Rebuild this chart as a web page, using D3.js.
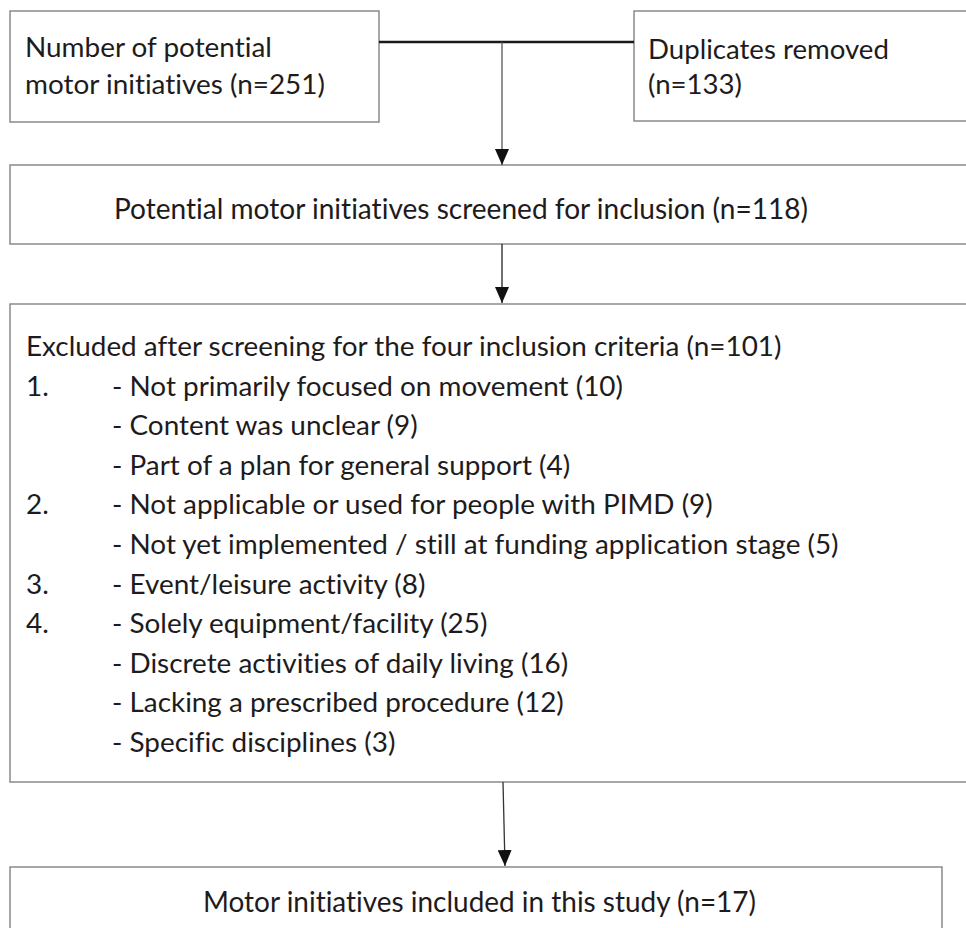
<!DOCTYPE html>
<html>
<head>
<meta charset="utf-8">
<script src="https://cdn.jsdelivr.net/npm/d3@7"></script>
<style>
  html, body { margin: 0; padding: 0; background: #fff; }
  svg { display: block; }
  text { font-variant-ligatures: none; font-feature-settings: "liga" 0, "clig" 0; }
</style>
</head>
<body>
<div id="chart"></div>
<script>
// flow stages: labels and counts
const topLabels = ['Number of potential', 'motor initiatives'];
const potentialCount = 251;
const duplicateLabel = 'Duplicates removed';
const duplicateCount = 133;
const screenedLabel = 'Potential motor initiatives screened for inclusion';
const screenedCount = 118;
const excludedLabel = 'Excluded after screening for the four inclusion criteria';
const excludedCount = 101;
const includedLabel = 'Motor initiatives included in this study';
const includedCount = 17;

// exclusion reasons, grouped by criterion number
const criteria = ['1.', '', '', '2.', '', '3.', '4.', '', '', ''];
const reasons = [
    'Not primarily focused on movement',
    'Content was unclear',
    'Part of a plan for general support',
    'Not applicable or used for people with PIMD',
    'Not yet implemented / still at funding application stage',
    'Event/leisure activity',
    'Solely equipment/facility',
    'Discrete activities of daily living',
    'Lacking a prescribed procedure',
    'Specific disciplines'
];
const reasonCounts = [10, 9, 4, 9, 5, 8, 25, 16, 12, 3];

(function() {
    const width = 966;
    const height = 928;
    const font = 'Lato, "Open Sans", sans-serif';
    const ink = '#1e1b1c';
    const boxStroke = '#8a8a8a';

    const svg = d3.select('#chart').append('svg')
        .attr('width', width)
        .attr('height', height);

    svg.append('rect').attr('width', width).attr('height', height).attr('fill', '#fff');

    svg.append('defs').append('marker')
        .attr('id', 'arrow')
        .attr('markerUnits', 'userSpaceOnUse')
        .attr('viewBox', '0 0 16 14')
        .attr('refX', 16)
        .attr('refY', 7)
        .attr('markerWidth', 16)
        .attr('markerHeight', 14)
        .attr('orient', 'auto')
        .append('path')
        .attr('d', 'M0,0 L16,7 L0,14 Z')
        .attr('fill', '#111');

    // boxes (some run off the right edge like the original)
    const boxes = [
        {x: 10, y: 11, w: 369, h: 111},
        {x: 634, y: 11, w: 400, h: 110},
        {x: 10, y: 165, w: 1000, h: 79},
        {x: 10, y: 304, w: 1000, h: 478},
        {x: 10, y: 867, w: 932, h: 100}
    ];
    svg.selectAll('rect.box')
        .data(boxes)
        .enter()
        .append('rect')
        .attr('class', 'box')
        .attr('x', d => d.x)
        .attr('y', d => d.y)
        .attr('width', d => d.w)
        .attr('height', d => d.h)
        .attr('fill', 'none')
        .attr('stroke', boxStroke)
        .attr('stroke-width', 1.5);

    // connector between first box and duplicates
    svg.append('line')
        .attr('x1', 379).attr('x2', 634)
        .attr('y1', 42).attr('y2', 42)
        .attr('stroke', '#1a1a1a')
        .attr('stroke-width', 2.5);

    const arrows = [
        {x1: 502, y1: 42, x2: 502, y2: 165, c: '#555'},
        {x1: 502, y1: 244, x2: 502, y2: 303, c: '#222'},
        {x1: 503, y1: 782, x2: 505, y2: 866, c: '#333'}
    ];
    svg.selectAll('line.arrow')
        .data(arrows)
        .enter()
        .append('line')
        .attr('class', 'arrow')
        .attr('x1', d => d.x1).attr('y1', d => d.y1)
        .attr('x2', d => d.x2).attr('y2', d => d.y2)
        .attr('stroke', d => d.c)
        .attr('stroke-width', 1.3)
        .attr('marker-end', 'url(#arrow)');

    // scale a group of text so that a reference line gets the wanted width
    function fitFont(sel, ref, target) {
        const w = ref.node().getComputedTextLength();
        const size = parseFloat(sel.attr('font-size')) * target / w;
        sel.attr('font-size', size);
    }

    // top left box
    const g1 = svg.append('g').attr('font-family', font).attr('font-size', 28).attr('fill', ink);
    g1.append('text').attr('x', 25).attr('y', 57).text(topLabels[0]);
    const t1 = g1.append('text').attr('x', 25).attr('y', 94).text(`${topLabels[1]} (n=${potentialCount})`);
    fitFont(g1, t1, 300);

    // duplicates box
    const g2 = svg.append('g').attr('font-family', font).attr('font-size', 28).attr('fill', ink);
    const t2 = g2.append('text').attr('x', 648).attr('y', 59).text(duplicateLabel);
    g2.append('text').attr('x', 648).attr('y', 94).text(`(n=${duplicateCount})`);
    fitFont(g2, t2, 241);

    // condensed one-line boxes
    svg.append('text')
        .attr('x', 114).attr('y', 219)
        .attr('font-family', font).attr('font-size', 28).attr('fill', ink)
        .attr('textLength', 694).attr('lengthAdjust', 'spacingAndGlyphs')
        .text(`${screenedLabel} (n=${screenedCount})`);

    svg.append('text')
        .attr('x', 203).attr('y', 912)
        .attr('font-family', font).attr('font-size', 28).attr('fill', ink)
        .attr('textLength', 553).attr('lengthAdjust', 'spacingAndGlyphs')
        .text(`${includedLabel} (n=${includedCount})`);

    // exclusion box
    const y = d3.scaleLinear().domain([0, reasons.length]).range([356, 752]);
    const g3 = svg.append('g').attr('font-family', font).attr('font-size', 26).attr('fill', ink);
    const t3 = g3.append('text').attr('x', 26).attr('y', y(0)).text(`${excludedLabel} (n=${excludedCount})`);

    g3.selectAll('text.crit')
        .data(criteria)
        .enter()
        .append('text')
        .attr('class', 'crit')
        .attr('x', 26)
        .attr('y', (d, i) => y(i + 1))
        .text(d => d);

    g3.selectAll('text.reason')
        .data(reasons)
        .enter()
        .append('text')
        .attr('class', 'reason')
        .attr('x', 112)
        .attr('y', (d, i) => y(i + 1))
        .text((d, i) => `- ${d} (${reasonCounts[i]})`);

    fitFont(g3, t3, 756);
})();
</script>
</body>
</html>
